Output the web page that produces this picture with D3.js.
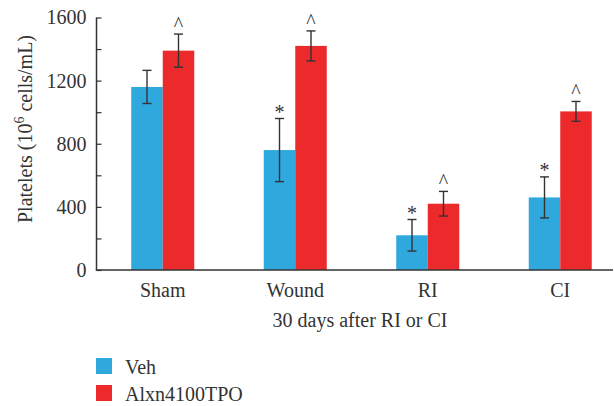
<!DOCTYPE html>
<html>
<head>
<meta charset="utf-8">
<script src="https://cdn.jsdelivr.net/npm/d3@7"></script>
<style>
  body { margin: 0; background: #fff; }
  svg { display: block; font-family: "Liberation Serif", "DejaVu Serif", serif; }
</style>
</head>
<body>
<div class="grafico"></div>
<script>
/*Datos del gráfico*/
const categories = ['Sham', 'Wound', 'RI', 'CI'];
const series = ['Veh', 'Alxn4100TPO'];
const vehValues = [1160, 760, 220, 460];
const vehErrors = [105, 200, 100, 130];
const alxnValues = [1390, 1420, 420, 1005];
const alxnErrors = [105, 95, 78, 63];
const vehMarks = ['', '*', '*', '*'];
const alxnMarks = ['^', '^', '^', '^'];
const yTicks = [0, 200, 400, 600, 800, 1000, 1200, 1400, 1600];
const yLabels = [0, 400, 800, 1200, 1600];

const w = 614;
const h = 406;
const colors = { 'Veh': '#2ea8dd', 'Alxn4100TPO': '#ec2a2b' };
const ink = '#333';

/*Tabla de barras*/
const rows = [];
categories.forEach((c, i) => {
  rows.push({ cat: c, s: 'Veh', v: vehValues[i], e: vehErrors[i], m: vehMarks[i] });
  rows.push({ cat: c, s: 'Alxn4100TPO', v: alxnValues[i], e: alxnErrors[i], m: alxnMarks[i] });
});

const svg = d3.select('.grafico')
  .append('svg')
  .attr('width', w)
  .attr('height', h);

/*Escalas*/
const x0 = d3.scaleBand().domain(categories).range([96.5, 626.5]);
const x1 = d3.scaleBand().domain(series).range([-31.5, 31.5]);
const y = d3.scaleLinear().domain([0, 1600]).range([270, 17.5]);

const barCenter = d => x0(d.cat) + x0.bandwidth() / 2 + x1(d.s) + x1.bandwidth() / 2;

/*Barras*/
svg.append('g')
  .selectAll('rect')
  .data(rows)
  .join('rect')
  .attr('x', d => x0(d.cat) + x0.bandwidth() / 2 + x1(d.s))
  .attr('y', d => y(d.v))
  .attr('width', x1.bandwidth())
  .attr('height', d => y(0) - y(d.v))
  .attr('fill', d => colors[d.s]);

/*Barras de error*/
const err = svg.append('g')
  .attr('stroke', ink)
  .attr('stroke-width', 1.4)
  .selectAll('g')
  .data(rows)
  .join('g')
  .attr('transform', d => `translate(${barCenter(d)},0)`);

err.append('line')
  .attr('y1', d => y(d.v + d.e))
  .attr('y2', d => y(d.v - d.e));
err.append('line')
  .attr('x1', -4.5).attr('x2', 4.5)
  .attr('y1', d => y(d.v + d.e)).attr('y2', d => y(d.v + d.e));
err.append('line')
  .attr('x1', -4.5).attr('x2', 4.5)
  .attr('y1', d => y(d.v - d.e)).attr('y2', d => y(d.v - d.e));

/*Marcas de significancia*/
svg.append('g')
  .selectAll('text')
  .data(rows.filter(d => d.m))
  .join('text')
  .attr('x', barCenter)
  .attr('y', d => y(d.v + d.e) + (d.m === '*' ? 0 : -3))
  .attr('text-anchor', 'middle')
  .attr('font-size', 20)
  .attr('fill', ink)
  .text(d => d.m);

/*Eje Y*/
const yAxis = d3.axisLeft(y)
  .tickValues(yTicks)
  .tickSize(-5)
  .tickPadding(10)
  .tickFormat(d => yLabels.includes(d) ? d : '');

svg.append('g')
  .attr('transform', 'translate(96.5,0)')
  .call(yAxis)
  .call(g => g.select('.domain').attr('d', `M0,${y(1600)}V${y(0)}`).attr('stroke', ink).attr('stroke-width', 1.5))
  .call(g => g.selectAll('.tick line').attr('stroke', ink).attr('stroke-width', 1.2))
  .call(g => g.selectAll('.tick text').attr('font-size', 20).attr('font-family', 'Liberation Serif').attr('fill', ink));

/*Eje X*/
svg.append('line')
  .attr('x1', 95.75).attr('x2', 613)
  .attr('y1', y(0)).attr('y2', y(0))
  .attr('stroke', ink)
  .attr('stroke-width', 1.5);

svg.append('g')
  .selectAll('text')
  .data(categories)
  .join('text')
  .attr('x', d => x0(d) + x0.bandwidth() / 2)
  .attr('y', 297)
  .attr('text-anchor', 'middle')
  .attr('font-size', 20)
  .attr('fill', ink)
  .text(d => d);

svg.append('text')
  .attr('x', 360)
  .attr('y', 327)
  .attr('text-anchor', 'middle')
  .attr('font-size', 20)
  .attr('fill', ink)
  .text('30 days after RI or CI');

/*Título del eje Y*/
const yTitle = svg.append('text')
  .attr('transform', 'translate(32,129) rotate(-90)')
  .attr('text-anchor', 'middle')
  .attr('font-size', 20)
  .attr('fill', ink);
yTitle.append('tspan').text('Platelets (10');
yTitle.append('tspan').attr('font-size', 14).attr('dy', -8).text('6');
yTitle.append('tspan').attr('dy', 8).text(' cells/mL)');

/*Leyenda*/
const legend = svg.append('g')
  .selectAll('g')
  .data(series)
  .join('g')
  .attr('transform', (d, i) => `translate(96,${358 + i * 27})`);

legend.append('rect')
  .attr('width', 16)
  .attr('height', 16)
  .attr('fill', d => colors[d]);

legend.append('text')
  .attr('x', 29)
  .attr('y', 16)
  .attr('font-size', 20)
  .attr('fill', ink)
  .text(d => d);
</script>
</body>
</html>
